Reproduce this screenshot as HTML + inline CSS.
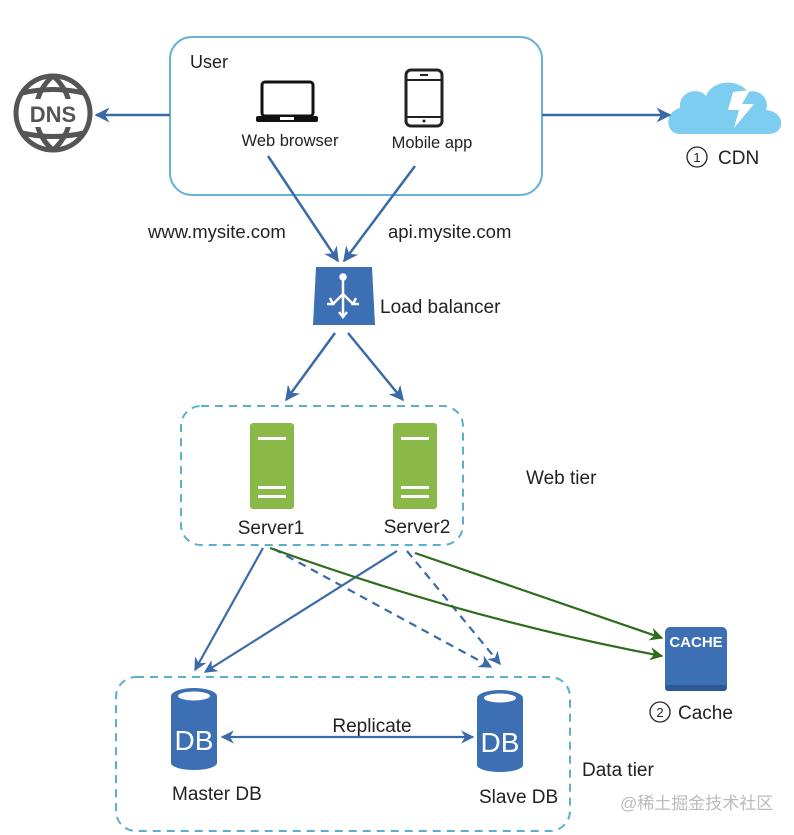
<!DOCTYPE html>
<html><head><meta charset="utf-8"><style>
html,body{margin:0;padding:0;background:#fff;}
svg{display:block;}
text{font-family:"Liberation Sans","Noto Sans CJK SC",sans-serif;fill:#222;}
</style></head><body>
<svg width="794" height="835" viewBox="0 0 794 835" xmlns="http://www.w3.org/2000/svg">
<defs>
<marker id="ab" viewBox="0 0 10 10" refX="9" refY="5" markerWidth="6" markerHeight="6" orient="auto-start-reverse"><path d="M0,0 L10,5 L0,10 L3,5 z" fill="#3b6aa8"/></marker>
<marker id="ag" viewBox="0 0 10 10" refX="9" refY="5" markerWidth="6" markerHeight="6" orient="auto"><path d="M0,0 L10,5 L0,10 L3,5 z" fill="#2e6b1a"/></marker>
</defs>
<rect width="794" height="835" fill="#fff"/>
<rect x="170" y="37" width="372" height="158" rx="22" fill="none" stroke="#66b3d6" stroke-width="2"/>
<text x="190" y="68" font-size="18">User</text>
<rect x="262" y="82" width="51" height="34" rx="3" fill="none" stroke="#111" stroke-width="3"/>
<rect x="256" y="116" width="62" height="6" rx="2" fill="#111"/>
<rect x="280" y="117" width="14" height="3" fill="#fff"/>
<text x="290" y="146" font-size="16.5" text-anchor="middle">Web browser</text>
<rect x="406" y="70" width="36" height="56" rx="5" fill="none" stroke="#222" stroke-width="3"/>
<line x1="407" y1="80" x2="441" y2="80" stroke="#222" stroke-width="2"/>
<line x1="407" y1="117" x2="441" y2="117" stroke="#222" stroke-width="2"/>
<line x1="420" y1="75" x2="428" y2="75" stroke="#222" stroke-width="2"/>
<circle cx="424" cy="121" r="1.5" fill="#222"/>
<text x="432" y="148" font-size="16.5" text-anchor="middle">Mobile app</text>
<g stroke="#555" stroke-width="5" fill="none">
<circle cx="53" cy="113" r="37"/>
<path d="M53,76 C30,95 30,131 53,150 M53,76 C76,95 76,131 53,150"/>
<path d="M22,93 Q53,86 84,93 M22,133 Q53,140 84,133"/>
</g>
<rect x="22" y="99" width="62" height="28" fill="#fff"/>
<text x="53" y="122" font-size="22" font-weight="bold" text-anchor="middle" style="fill:#555">DNS</text>
<line x1="170" y1="115" x2="96" y2="115" stroke="#3b6aa8" stroke-width="2.5" marker-end="url(#ab)"/>
<path d="M680,134 C665,134 664,112 680,108 C678,92 698,86 706,96 C712,80 738,78 748,92 C760,88 770,100 766,110 C786,112 786,134 768,134 Z" fill="#7ccdef"/>
<path d="M733,92 L750,90 L742,104 L754,104 L734,128 L739,110 L728,110 Z" fill="#fff"/>
<line x1="542" y1="115" x2="670" y2="115" stroke="#3b6aa8" stroke-width="2.5" marker-end="url(#ab)"/>
<circle cx="697" cy="157" r="10" fill="none" stroke="#222" stroke-width="1.3"/>
<text x="697" y="162" font-size="13" text-anchor="middle">1</text>
<text x="718" y="164" font-size="19">CDN</text>
<line x1="268" y1="156" x2="338" y2="261" stroke="#3b6aa8" stroke-width="2.5" marker-end="url(#ab)"/>
<line x1="415" y1="166" x2="344" y2="261" stroke="#3b6aa8" stroke-width="2.5" marker-end="url(#ab)"/>
<text x="148" y="238" font-size="18.5">www.mysite.com</text>
<text x="388" y="238" font-size="18.5">api.mysite.com</text>
<path d="M316,267 L372,267 L375,325 L313,325 Z" fill="#3c6fb4"/>
<g stroke="#fff" stroke-width="2.5" fill="none">
<line x1="343" y1="277" x2="343" y2="316"/><circle cx="343" cy="277" r="2.5" fill="#fff"/>
<line x1="343" y1="294" x2="333" y2="304"/><line x1="343" y1="294" x2="353" y2="304"/>
<path d="M330,298 L333,304 L327,304 M356,298 L353,304 L359,304 M339,312 L343,317 L347,312"/>
</g>
<text x="380" y="313" font-size="19">Load balancer</text>
<line x1="335" y1="333" x2="286" y2="400" stroke="#3b6aa8" stroke-width="2.5" marker-end="url(#ab)"/>
<line x1="348" y1="333" x2="403" y2="400" stroke="#3b6aa8" stroke-width="2.5" marker-end="url(#ab)"/>
<rect x="181" y="406" width="282" height="139" rx="20" fill="none" stroke="#5ab0cc" stroke-width="2" stroke-dasharray="8,6"/>
<g>
<rect x="250" y="423" width="44" height="86" rx="3" fill="#8ab94a"/>
<rect x="258" y="437" width="28" height="3" fill="#fff"/><rect x="258" y="486" width="28" height="3" fill="#fff"/><rect x="258" y="495" width="28" height="3" fill="#fff"/>
<rect x="393" y="423" width="44" height="86" rx="3" fill="#8ab94a"/>
<rect x="401" y="437" width="28" height="3" fill="#fff"/><rect x="401" y="486" width="28" height="3" fill="#fff"/><rect x="401" y="495" width="28" height="3" fill="#fff"/>
</g>
<text x="271" y="534" font-size="19" text-anchor="middle">Server1</text>
<text x="417" y="533" font-size="19" text-anchor="middle">Server2</text>
<text x="526" y="484" font-size="19">Web tier</text>
<line x1="263" y1="548" x2="195" y2="670" stroke="#3b6aa8" stroke-width="2.2" marker-end="url(#ab)"/>
<line x1="397" y1="551" x2="205" y2="672" stroke="#3b6aa8" stroke-width="2.2" marker-end="url(#ab)"/>
<line x1="274" y1="549" x2="491" y2="667" stroke="#3b6aa8" stroke-width="2.2" stroke-dasharray="8,6" marker-end="url(#ab)"/>
<line x1="407" y1="551" x2="500" y2="664" stroke="#3b6aa8" stroke-width="2.2" stroke-dasharray="8,6" marker-end="url(#ab)"/>
<path d="M270,548 Q470,620 662,656" fill="none" stroke="#2e6b1a" stroke-width="2.2" marker-end="url(#ag)"/>
<line x1="415" y1="553" x2="662" y2="638" stroke="#2e6b1a" stroke-width="2.2" marker-end="url(#ag)"/>
<rect x="665" y="627" width="62" height="64" rx="5" fill="#3c6fb4"/>
<rect x="665" y="685" width="62" height="6" rx="3" fill="#2d5a94"/>
<text x="696" y="647" font-size="15" font-weight="bold" text-anchor="middle" style="fill:#fff">CACHE</text>
<circle cx="660" cy="712" r="10" fill="none" stroke="#222" stroke-width="1.3"/>
<text x="660" y="717" font-size="13" text-anchor="middle">2</text>
<text x="678" y="719" font-size="19">Cache</text>
<rect x="116" y="677" width="454" height="154" rx="20" fill="none" stroke="#5ab0cc" stroke-width="2" stroke-dasharray="8,6"/>
<g>
<path d="M171,696 L171,763 A23,7 0 0 0 217,763 L217,696 Z" fill="#3c6fb4"/>
<ellipse cx="194" cy="696" rx="23" ry="8" fill="#3c6fb4"/>
<ellipse cx="194" cy="696" rx="16" ry="4.5" fill="#fff"/>
<text x="194" y="750" font-size="28" text-anchor="middle" style="fill:#fff">DB</text>
<path d="M477,698 L477,765 A23,7 0 0 0 523,765 L523,698 Z" fill="#3c6fb4"/>
<ellipse cx="500" cy="698" rx="23" ry="8" fill="#3c6fb4"/>
<ellipse cx="500" cy="698" rx="16" ry="4.5" fill="#fff"/>
<text x="500" y="752" font-size="28" text-anchor="middle" style="fill:#fff">DB</text>
</g>
<line x1="222" y1="737" x2="473" y2="737" stroke="#3b6aa8" stroke-width="2.2" marker-start="url(#ab)" marker-end="url(#ab)"/>
<text x="372" y="732" font-size="19" text-anchor="middle">Replicate</text>
<text x="172" y="800" font-size="19">Master DB</text>
<text x="479" y="803" font-size="19">Slave DB</text>
<text x="582" y="776" font-size="19">Data tier</text>
<text x="620" y="809" font-size="17" style="fill:#bbb">@稀土掘金技术社区</text>
</svg>
</body></html>
